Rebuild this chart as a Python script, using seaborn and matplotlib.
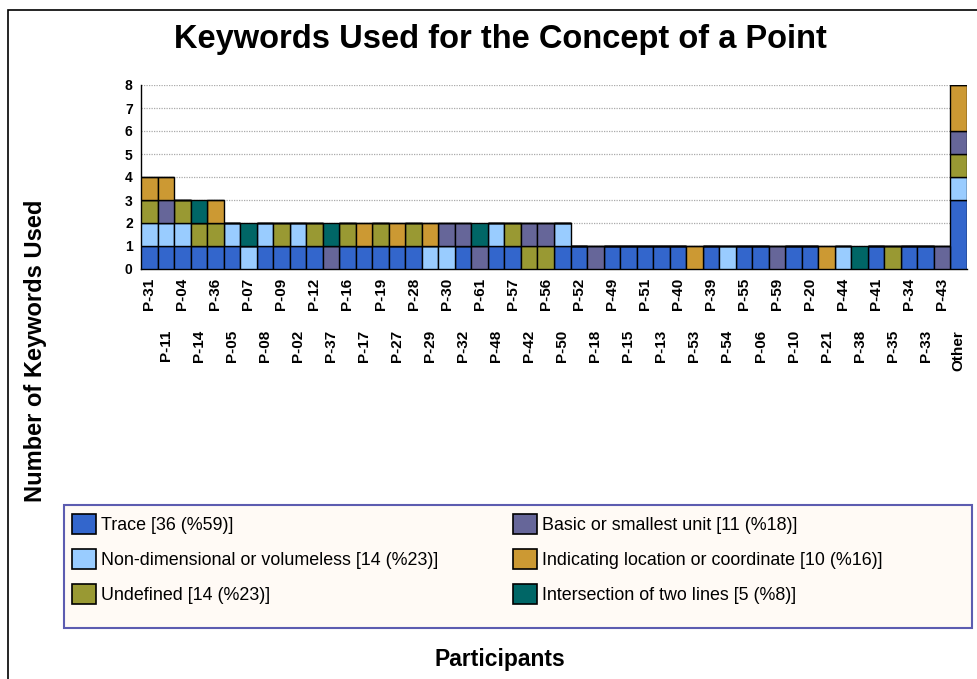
import numpy as np
import matplotlib
matplotlib.use("Agg")
import matplotlib.pyplot as plt
from matplotlib.patches import Patch, Rectangle
import seaborn as sns

participants = [
    "P-31", "P-11", "P-04", "P-14", "P-36", "P-05", "P-07", "P-08", "P-09", "P-02",
    "P-12", "P-37", "P-16", "P-17", "P-19", "P-27", "P-28", "P-29", "P-30", "P-32",
    "P-61", "P-48", "P-57", "P-42", "P-56", "P-50", "P-52", "P-18", "P-49", "P-15",
    "P-51", "P-13", "P-40", "P-53", "P-39", "P-54", "P-55", "P-06", "P-59", "P-10",
    "P-20", "P-21", "P-44", "P-38", "P-41", "P-35", "P-34", "P-33", "P-43", "Other",
]

# Anzahl Keywords pro Kategorie und Teilnehmer (Reihenfolge wie participants)
trace = [1, 1, 1, 1, 1, 1, 0, 1, 1, 1,
         1, 0, 1, 1, 1, 1, 1, 0, 0, 1,
         0, 1, 1, 0, 0, 1, 1, 0, 1, 1,
         1, 1, 1, 0, 1, 0, 1, 1, 0, 1,
         1, 0, 0, 0, 1, 0, 1, 1, 0, 3]
nondim = [1, 1, 1, 0, 0, 1, 1, 1, 0, 1,
          0, 0, 0, 0, 0, 0, 0, 1, 1, 0,
          0, 1, 0, 0, 0, 1, 0, 0, 0, 0,
          0, 0, 0, 0, 0, 1, 0, 0, 0, 0,
          0, 0, 1, 0, 0, 0, 0, 0, 0, 1]
undefined = [1, 0, 1, 1, 1, 0, 0, 0, 1, 0,
             1, 0, 1, 0, 1, 0, 1, 0, 0, 0,
             0, 0, 1, 1, 1, 0, 0, 0, 0, 0,
             0, 0, 0, 0, 0, 0, 0, 0, 0, 0,
             0, 0, 0, 0, 0, 1, 0, 0, 0, 1]
basic = [0, 1, 0, 0, 0, 0, 0, 0, 0, 0,
         0, 1, 0, 0, 0, 0, 0, 0, 1, 1,
         1, 0, 0, 1, 1, 0, 0, 1, 0, 0,
         0, 0, 0, 0, 0, 0, 0, 0, 1, 0,
         0, 0, 0, 0, 0, 0, 0, 0, 1, 1]
location = [1, 1, 0, 0, 1, 0, 0, 0, 0, 0,
            0, 0, 0, 1, 0, 1, 0, 1, 0, 0,
            0, 0, 0, 0, 0, 0, 0, 0, 0, 0,
            0, 0, 0, 1, 0, 0, 0, 0, 0, 0,
            0, 1, 0, 0, 0, 0, 0, 0, 0, 2]
intersection = [0, 0, 0, 1, 0, 0, 1, 0, 0, 0,
                0, 1, 0, 0, 0, 0, 0, 0, 0, 0,
                1, 0, 0, 0, 0, 0, 0, 0, 0, 0,
                0, 0, 0, 0, 0, 0, 0, 0, 0, 0,
                0, 0, 0, 1, 0, 0, 0, 0, 0, 0]

legend_labels = [
    "Trace [36 (%59)]",
    "Non-dimensional or volumeless [14 (%23)]",
    "Undefined [14 (%23)]",
    "Basic or smallest unit [11 (%18)]",
    "Indicating location or coordinate [10 (%16)]",
    "Intersection of two lines [5 (%8)]",
]
farben = ["#3366cc", "#99ccff", "#999933", "#666699", "#cc9933", "#006666"]

sns.set_theme(style="white")
plt.rcParams["font.family"] = ["Liberation Sans", "DejaVu Sans"]
plt.rcParams["text.color"] = "black"
plt.rcParams["xtick.color"] = "black"
plt.rcParams["ytick.color"] = "black"
plt.rcParams["axes.labelcolor"] = "black"

fig = plt.figure(figsize=(9.77, 6.79), dpi=100)
W, H = 977, 679
ax = fig.add_axes([141 / W, 1 - 269 / H, 826 / W, 184 / H])

# gestapelte Balken, Schicht fuer Schicht
bottom = np.zeros(len(participants))
for werte, farbe in zip([trace, nondim, undefined, basic, location, intersection], farben):
    sns.barplot(x=participants, y=werte, order=participants, bottom=bottom,
                color=farbe, saturation=1, width=1, errorbar=None,
                edgecolor="black", linewidth=1.0, ax=ax, zorder=3)
    bottom += np.array(werte)

ax.set_ylim(0, 8)
ax.set_xlim(-0.5, len(participants) - 0.5)
ax.set_yticks(range(0, 9))
ax.yaxis.grid(True, color="#aaaaaa", linestyle=(0, (1, 1)), linewidth=0.9, zorder=0)
ax.xaxis.grid(False)
for s in ["top", "right"]:
    ax.spines[s].set_visible(False)
ax.spines["left"].set_color("black")
ax.spines["bottom"].set_color("black")
ax.spines["left"].set_linewidth(1.0)
ax.spines["bottom"].set_linewidth(1.0)
ax.set_xlabel("")
ax.set_ylabel("")

ax.set_xticks(range(len(participants)))
ax.set_xticklabels(participants, rotation=90, fontsize=11, fontweight="bold")
ax.tick_params(axis="x", length=0)
ax.tick_params(axis="y", length=0, pad=6, labelsize=10)
for lab in ax.get_yticklabels():
    lab.set_fontweight("bold")
# Beschriftungen abwechselnd versetzt
for i, tick in enumerate(ax.xaxis.get_major_ticks()):
    tick.set_pad(6.5 if i % 2 == 0 else 44)

fig.text(500 / W, 1 - 48 / H, "Keywords Used for the Concept of a Point",
         ha="center", va="baseline", fontsize=23.5, fontweight="bold")
fig.text(36 / W, 1 - 351 / H, "Number of Keywords Used", rotation=90,
         ha="center", va="center", fontsize=17, fontweight="bold")
fig.text(500 / W, 1 - 666 / H, "Participants", ha="center", va="baseline",
         fontsize=16.5, fontweight="bold")

# aeusserer Rahmen
fig.patches.append(Rectangle((8 / W, -0.1), 1.2, 1 - 10 / H + 0.1,
                             transform=fig.transFigure, fill=False,
                             edgecolor="black", linewidth=1.2))
# Legendenkasten
fig.patches.append(Rectangle((64 / W, 1 - 628 / H), 908 / W, 123 / H,
                             transform=fig.transFigure, facecolor="#fffaf5",
                             edgecolor="#5c5cb0", linewidth=1.5, zorder=1))

handles = [Patch(facecolor=f, edgecolor="black", linewidth=1.2) for f in farben]
leg = fig.legend(handles, legend_labels, ncol=2, loc="upper left",
                 bbox_to_anchor=(72 / W, 1 - 514 / H), frameon=False,
                 fontsize=12.9, handlelength=1.35, handleheight=1.35,
                 handletextpad=0.25, labelspacing=0.82, columnspacing=4.2,
                 borderpad=0, borderaxespad=0)
leg.set_zorder(5)

fig.savefig("out.png", dpi=100)
